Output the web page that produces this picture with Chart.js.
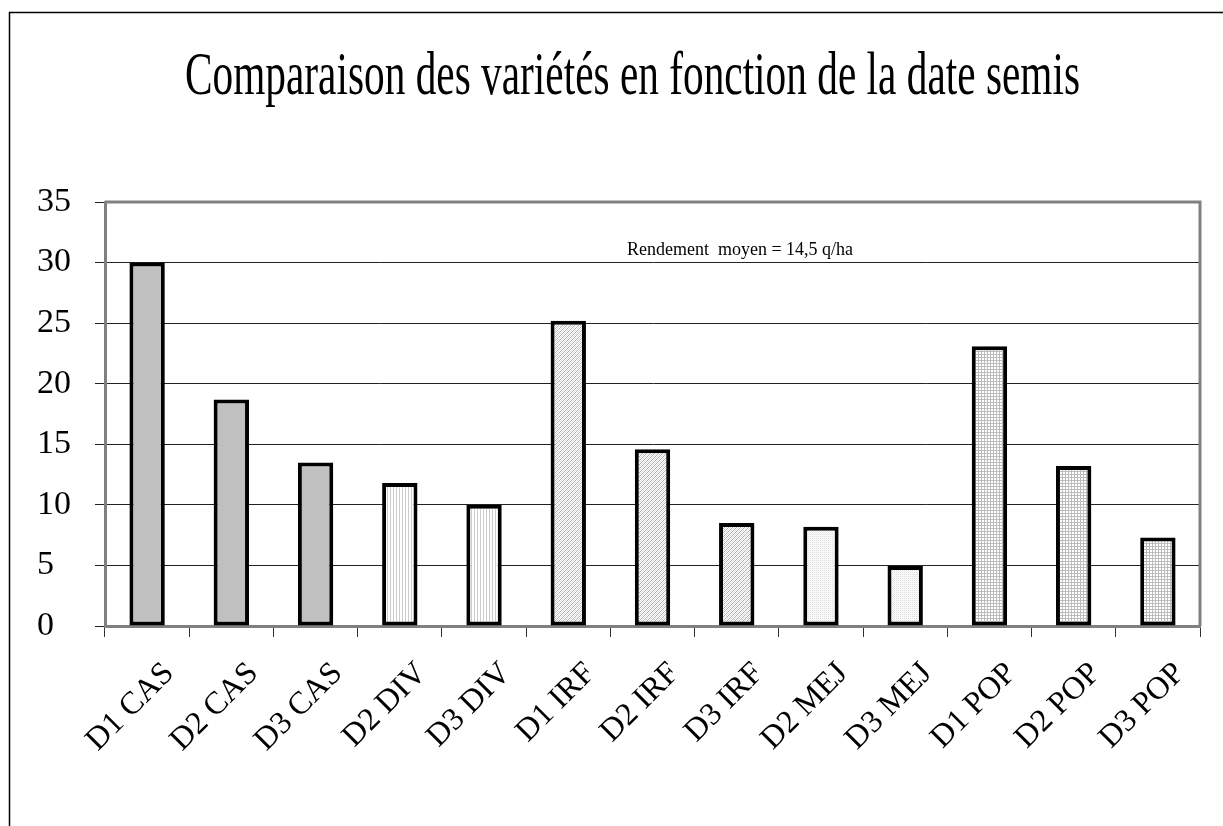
<!DOCTYPE html>
<html>
<head>
<meta charset="utf-8">
<script src="https://cdn.jsdelivr.net/npm/chart.js@4"></script>
<style>
  html, body { margin: 0; padding: 0; background: #fff; }
  #wrap { position: relative; width: 1223px; height: 826px; }
</style>
</head>
<body>
<div id="wrap"><canvas id="c"></canvas></div>
<script>
const chartTitle = "Comparaison des variétés en fonction de la date semis";
const noteText = "Rendement  moyen = 14,5 q/ha";
const categories = ["D1 CAS", "D2 CAS", "D3 CAS", "D2 DIV", "D3 DIV", "D1 IRF", "D2 IRF", "D3 IRF", "D2 MEJ", "D3 MEJ", "D1 POP", "D2 POP", "D3 POP"];
const varieties = ["CAS", "CAS", "CAS", "DIV", "DIV", "IRF", "IRF", "IRF", "MEJ", "MEJ", "POP", "POP", "POP"];
const yields = [30.0, 18.7, 13.5, 11.8, 10.0, 25.2, 14.6, 8.5, 8.2, 4.95, 23.1, 13.2, 7.3];
const yTickMin = 0, yTickMax = 35, yTickStep = 5;

function tile(w, h, draw) {
  const c = document.createElement('canvas');
  c.width = w; c.height = h;
  const x = c.getContext('2d');
  x.fillStyle = '#ffffff'; x.fillRect(0, 0, w, h);
  draw(x);
  return document.getElementById('c').getContext('2d').createPattern(c, 'repeat');
}
const fills = {
  CAS: '#c0c0c0',
  DIV: tile(3, 3, x => { x.fillStyle = '#cccccc'; x.fillRect(0, 0, 1, 3); }),
  IRF: tile(4, 4, x => { x.fillStyle = '#b0b0b0'; for (let i = 0; i < 4; i++) { x.fillRect(i, 3 - i, 1, 1); } x.fillStyle = '#e0e0e0'; for (let i = 0; i < 4; i++) { x.fillRect((i + 2) % 4, 3 - i, 1, 1); } }),
  MEJ: tile(2, 2, x => { x.fillStyle = '#dcdcdc'; x.fillRect(0, 0, 1, 1); x.fillStyle = '#eeeeee'; x.fillRect(1, 1, 1, 1); }),
  POP: tile(3, 3, x => { x.fillStyle = '#bcbcbc'; x.fillRect(0, 0, 3, 1); x.fillRect(0, 0, 1, 3); })
};

function condensed(ctx, text, font, left, baseline, width) {
  ctx.font = font;
  const w = ctx.measureText(text).width;
  ctx.save();
  ctx.translate(left, baseline);
  ctx.scale(width / w, 1);
  ctx.fillText(text, 0, 0);
  ctx.restore();
}

const decor = {
  id: 'decor',
  beforeDraw(chart) {
    const ctx = chart.ctx;
    ctx.save();
    ctx.strokeStyle = '#000';
    ctx.lineWidth = 1.5;
    ctx.beginPath();
    ctx.moveTo(9.5, 2000); ctx.lineTo(9.5, 12.5); ctx.lineTo(2000, 12.5);
    ctx.stroke();
    ctx.restore();
  },
  afterDraw(chart) {
    const ctx = chart.ctx, a = chart.chartArea;
    ctx.save();
    ctx.strokeStyle = '#808080';
    ctx.lineWidth = 3;
    ctx.beginPath();
    ctx.moveTo(a.left, a.top); ctx.lineTo(a.right, a.top); ctx.lineTo(a.right, a.bottom);
    ctx.stroke();
    ctx.fillStyle = '#000';
    ctx.textBaseline = 'alphabetic';
    ctx.textAlign = 'left';
    condensed(ctx, chartTitle, '62px "Liberation Serif"', 185, 94, 895);
    condensed(ctx, noteText, '19px "Liberation Serif"', 627, 255, 226);
    ctx.restore();
  }
};

new Chart(document.getElementById('c'), {
  type: 'bar',
  data: {
    labels: categories,
    datasets: [{
      data: yields,
      backgroundColor: varieties.map(v => fills[v]),
      borderColor: '#000',
      borderWidth: 4,
      borderSkipped: false,
      categoryPercentage: 1,
      barPercentage: 0.42
    }]
  },
  options: {
    responsive: true,
    maintainAspectRatio: false,
    animation: false,
    devicePixelRatio: 1,
    layout: { padding: { top: 202, right: 23, left: 37, bottom: 0 } },
    plugins: { legend: { display: false }, title: { display: false }, tooltip: { enabled: false } },
    scales: {
      x: {
        afterFit(s) { s.height = 200; },
        grid: { offset: true, drawOnChartArea: false, drawTicks: true, tickLength: 11, color: '#333', lineWidth: 1 },
        border: { color: '#808080', width: 3 },
        ticks: {
          maxRotation: 45, minRotation: 45, autoSkip: false,
          padding: 18,
          labelOffset: 22,
          color: '#000',
          font: { family: '"Liberation Serif"', size: 32 }
        }
      },
      y: {
        min: yTickMin, max: yTickMax,
        afterFit(s) { s.width = 68; },
        grid: { color: '#222', lineWidth: 1, tickLength: 10, drawTicks: true },
        border: { color: '#808080', width: 3 },
        ticks: {
          stepSize: yTickStep,
          padding: 12,
          crossAlign: 'far',
          color: '#000',
          font: { family: '"Liberation Serif"', size: 34 }
        }
      }
    }
  },
  plugins: [decor]
});
</script>
</body>
</html>
